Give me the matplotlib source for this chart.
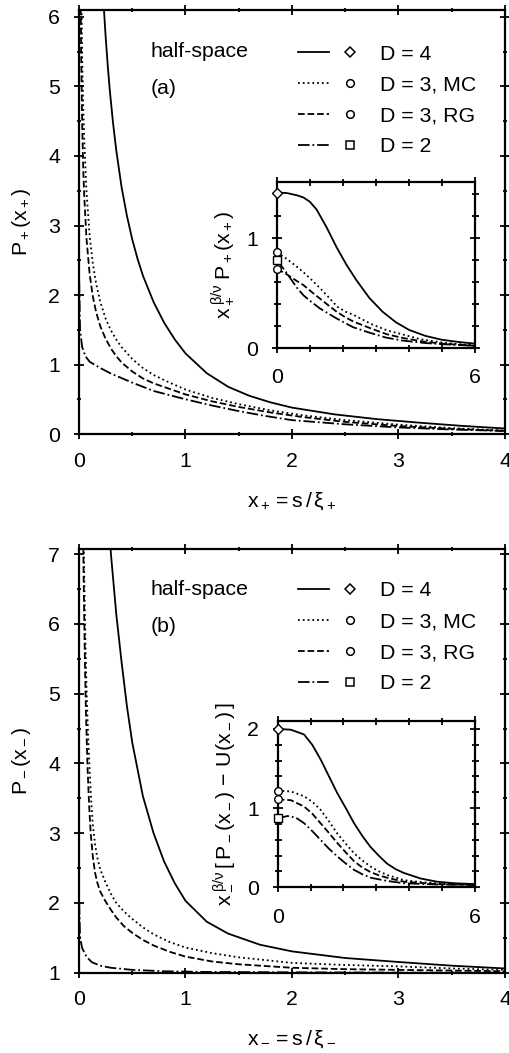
import matplotlib
matplotlib.use('Agg')
import matplotlib.pyplot as plt
from matplotlib.lines import Line2D
from matplotlib.legend_handler import HandlerTuple
from matplotlib.ticker import MultipleLocator, FixedLocator

plt.rcParams['font.family'] = ['Liberation Sans', 'DejaVu Sans']
plt.rcParams['mathtext.fontset'] = 'custom'
plt.rcParams['mathtext.rm'] = 'Liberation Sans'
plt.rcParams['mathtext.it'] = 'Liberation Sans'
plt.rcParams['mathtext.sf'] = 'Liberation Sans'
plt.rcParams['mathtext.default'] = 'rm'

# ---------------- dados ----------------
labels = ['D = 4', 'D = 3, MC', 'D = 3, RG', 'D = 2']
marcadores = ['D', 'o', 'o', 's']
estilos = ['-', ':', '--', '-.']

# (a) curva principal P+(x+)
a_x_d4 = [0.235, 0.25, 0.27, 0.29, 0.32, 0.35, 0.4, 0.45, 0.5, 0.55, 0.6, 0.7, 0.8, 0.9, 1.0, 1.2, 1.4, 1.6, 1.8, 2.0, 2.4, 2.8, 3.2, 3.6, 4.0]
a_y_d4 = [6.09, 5.72, 5.3, 4.93, 4.47, 4.08, 3.55, 3.14, 2.8, 2.52, 2.28, 1.9, 1.6, 1.36, 1.16, 0.875, 0.68, 0.55, 0.455, 0.38, 0.283, 0.214, 0.163, 0.117, 0.08]
a_x_mc = [0.022, 0.03, 0.04, 0.05, 0.07, 0.1, 0.13, 0.16, 0.2, 0.25, 0.3, 0.35, 0.4, 0.5, 0.6, 0.7, 0.85, 1.0, 1.25, 1.5, 1.8, 2.1, 2.5, 3.0, 3.5, 4.0]
a_y_mc = [6.4, 5.4, 4.7, 4.2, 3.5, 2.85, 2.45, 2.17, 1.9, 1.66, 1.49, 1.36, 1.25, 1.08, 0.95, 0.85, 0.74, 0.64, 0.52, 0.43, 0.34, 0.27, 0.2, 0.135, 0.085, 0.05]
a_x_rg = [0.016, 0.02, 0.03, 0.04, 0.05, 0.07, 0.1, 0.13, 0.16, 0.2, 0.25, 0.3, 0.35, 0.4, 0.5, 0.6, 0.7, 0.85, 1.0, 1.25, 1.5, 1.8, 2.1, 2.5, 3.0, 3.5, 4.0]
a_y_rg = [6.3, 5.5, 4.45, 3.8, 3.4, 2.82, 2.3, 1.98, 1.76, 1.55, 1.37, 1.23, 1.12, 1.03, 0.9, 0.8, 0.73, 0.65, 0.57, 0.47, 0.39, 0.31, 0.245, 0.175, 0.115, 0.075, 0.045]
a_x_d2 = [0.002, 0.01, 0.03, 0.06, 0.1, 0.2, 0.3, 0.5, 0.7, 1.0, 1.25, 1.5, 1.75, 2.0, 2.5, 3.0, 3.5, 4.0]
a_y_d2 = [2.2, 1.5, 1.25, 1.12, 1.04, 0.95, 0.87, 0.74, 0.62, 0.5, 0.41, 0.33, 0.26, 0.2, 0.14, 0.095, 0.065, 0.045]

# (a) inset x+^(beta/nu) P+(x+)
ia_x_d4 = [0, 0.3, 0.6, 0.8, 1.0, 1.2, 1.5, 1.8, 2.1, 2.4, 2.8, 3.2, 3.6, 4.0, 4.5, 5.0, 5.5, 6.0]
ia_y_d4 = [1.415, 1.41, 1.39, 1.37, 1.33, 1.26, 1.1, 0.92, 0.76, 0.62, 0.455, 0.33, 0.235, 0.165, 0.11, 0.075, 0.055, 0.04]
ia_x_mc = [0, 0.3, 0.6, 0.8, 1.05, 1.32, 1.57, 1.83, 2.08, 2.33, 2.84, 3.34, 3.85, 4.35, 5.0, 5.5, 6.0]
ia_y_mc = [0.87, 0.81, 0.74, 0.69, 0.62, 0.54, 0.46, 0.375, 0.33, 0.30, 0.22, 0.16, 0.12, 0.08, 0.05, 0.035, 0.025]
ia_x_rg = [0, 0.3, 0.6, 0.8, 1.05, 1.3, 1.55, 1.81, 2.07, 2.32, 2.83, 3.33, 3.84, 4.4, 5.0, 6.0]
ia_y_rg = [0.72, 0.67, 0.61, 0.573, 0.51, 0.45, 0.39, 0.33, 0.28, 0.24, 0.18, 0.125, 0.09, 0.06, 0.04, 0.02]
ia_x_d2 = [0, 0.3, 0.6, 0.8, 1.0, 1.3, 1.8, 2.3, 2.8, 3.3, 3.8, 4.5, 5.0, 6.0]
ia_y_d2 = [0.80, 0.68, 0.55, 0.48, 0.43, 0.36, 0.27, 0.19, 0.14, 0.095, 0.068, 0.045, 0.035, 0.02]

# (b) curva principal P-(x-)
b_x_d4 = [0.29, 0.3, 0.35, 0.4, 0.45, 0.5, 0.6, 0.7, 0.8, 0.9, 1.0, 1.2, 1.4, 1.7, 2.0, 2.5, 3.0, 3.5, 4.0]
b_y_d4 = [7.21, 7.0, 6.14, 5.45, 4.82, 4.3, 3.53, 3.0, 2.59, 2.28, 2.03, 1.73, 1.56, 1.4, 1.305, 1.21, 1.153, 1.1, 1.06]
b_x_mc = [0.045, 0.05, 0.06, 0.07, 0.085, 0.1, 0.115, 0.13, 0.15, 0.17, 0.2, 0.25, 0.3, 0.35, 0.42, 0.5, 0.6, 0.7, 0.85, 1.0, 1.25, 1.5, 2.0, 2.5, 3.0, 3.5, 4.0]
b_y_mc = [7.1, 6.6, 5.75, 5.1, 4.4, 3.9, 3.45, 3.12, 2.85, 2.66, 2.48, 2.29, 2.13, 2.0, 1.88, 1.77, 1.65, 1.55, 1.44, 1.36, 1.28, 1.22, 1.14, 1.11, 1.09, 1.06, 1.04]
b_x_rg = [0.04, 0.045, 0.055, 0.065, 0.08, 0.095, 0.11, 0.13, 0.15, 0.17, 0.2, 0.25, 0.3, 0.35, 0.42, 0.5, 0.6, 0.7, 0.85, 1.0, 1.25, 1.5, 2.0, 2.5, 3.0, 3.5, 4.0]
b_y_rg = [7.1, 6.5, 5.5, 4.75, 3.95, 3.4, 3.0, 2.66, 2.44, 2.3, 2.16, 2.02, 1.9, 1.79, 1.67, 1.57, 1.47, 1.39, 1.3, 1.23, 1.16, 1.12, 1.07, 1.05, 1.04, 1.03, 1.02]
b_x_d2 = [0.002, 0.01, 0.03, 0.07, 0.12, 0.2, 0.3, 0.5, 0.8, 1.2, 2.0, 3.0, 4.0]
b_y_d2 = [2.0, 1.5, 1.35, 1.23, 1.15, 1.1, 1.07, 1.04, 1.02, 1.01, 1.005, 1.0, 1.0]

# (b) inset x-^(beta/nu) [P-(x-) - U(x-)]
ib_x_d4 = [0, 0.4, 0.8, 1.05, 1.31, 1.56, 1.81, 2.07, 2.32, 2.57, 2.82, 3.07, 3.32, 3.58, 3.84, 4.35, 4.85, 5.4, 6.0]
ib_y_d4 = [2.0, 1.99, 1.93, 1.8, 1.61, 1.4, 1.19, 1.0, 0.81, 0.65, 0.51, 0.4, 0.30, 0.23, 0.18, 0.11, 0.07, 0.05, 0.04]
ib_x_mc = [0, 0.4, 0.8, 1.05, 1.3, 1.55, 1.81, 2.07, 2.32, 2.57, 2.83, 3.08, 3.33, 3.84, 4.35, 4.85, 6.0]
ib_y_mc = [1.22, 1.21, 1.15, 1.08, 0.98, 0.84, 0.68, 0.55, 0.43, 0.34, 0.26, 0.2, 0.155, 0.09, 0.065, 0.05, 0.03]
ib_x_rg = [0, 0.4, 0.8, 1.05, 1.3, 1.55, 1.81, 2.07, 2.32, 2.57, 2.83, 3.08, 3.33, 3.84, 4.85, 6.0]
ib_y_rg = [1.11, 1.10, 1.02, 0.93, 0.81, 0.69, 0.56, 0.44, 0.33, 0.25, 0.19, 0.15, 0.12, 0.07, 0.04, 0.03]
ib_x_d2 = [0, 0.3, 0.55, 0.8, 1.05, 1.3, 1.55, 1.81, 2.07, 2.32, 2.57, 2.83, 3.33, 3.84, 4.85, 6.0]
ib_y_d2 = [0.87, 0.90, 0.88, 0.81, 0.71, 0.60, 0.49, 0.39, 0.30, 0.22, 0.165, 0.12, 0.08, 0.05, 0.035, 0.03]

FS = 15.3
LW = 1.3


def estilo_eixo(ax, maior=10, menor=5):
    for s in ax.spines.values():
        s.set_linewidth(1.6)
    ax.tick_params(which='both', direction='inout', top=True, right=True,
                   width=1.3, labelsize=FS)
    ax.tick_params(which='major', length=maior * 0.72)
    ax.tick_params(which='minor', length=menor * 0.72)


def painel(ax, ins, curvas, curvas_ins, ylim, ins_ylim, ins_major, letra, ylabel, xlabel, inslabel, pos):
    for (x, y), ls in zip(curvas, estilos):
        ax.plot(x, y, color='k', ls=ls, lw=LW)
    ax.set_xlim(0, 4)
    ax.set_ylim(*ylim)
    ax.xaxis.set_major_locator(MultipleLocator(1))
    ax.xaxis.set_minor_locator(MultipleLocator(0.5))
    ax.yaxis.set_major_locator(MultipleLocator(1))
    ax.yaxis.set_minor_locator(MultipleLocator(0.5))
    estilo_eixo(ax)
    ax.tick_params(axis='x', pad=9)
    ax.tick_params(axis='y', pad=10)
    ax.set_xlabel(xlabel, fontsize=FS, labelpad=14)
    ax.set_ylabel(ylabel, fontsize=FS, labelpad=11)

    ax.text(0.167, pos[0], 'half-space', transform=ax.transAxes, fontsize=FS, va='center')
    ax.text(0.167, pos[1], letra, transform=ax.transAxes, fontsize=FS, va='center')

    handles = []
    for ls, m in zip(estilos, marcadores):
        ms = 5.5 if m != 'D' else 5
        handles.append((Line2D([], [], color='k', ls=ls, lw=LW),
                        Line2D([], [], ls='none', marker=m, mfc='white', mec='k', mew=1.1, ms=ms)))
    ax.legend(handles, labels, handler_map={tuple: HandlerTuple(ndivide=2, pad=0.26)},
              handlelength=3.2, handletextpad=0.68, labelspacing=0.56, frameon=False,
              loc='upper left', bbox_to_anchor=(0.514, pos[2]), borderaxespad=0,
              borderpad=0, fontsize=FS)

    for (x, y), ls in zip(curvas_ins, estilos):
        ins.plot(x, y, color='k', ls=ls, lw=LW)
    for (x, y), m in zip(curvas_ins, marcadores):
        ms = 5.5 if m != 'D' else 5
        ins.plot(x[:1], y[:1], ls='none', marker=m, mfc='white', mec='k', mew=1.0, ms=ms,
                 clip_on=False, zorder=5)
    ins.set_xlim(0, 6)
    ins.set_ylim(*ins_ylim)
    ins.xaxis.set_major_locator(FixedLocator([0, 6]))
    ins.xaxis.set_minor_locator(MultipleLocator(1))
    ins.yaxis.set_major_locator(FixedLocator(ins_major))
    ins.yaxis.set_minor_locator(MultipleLocator(0.2))
    estilo_eixo(ins, maior=10, menor=7)
    ins.tick_params(axis='x', pad=11)
    ins.tick_params(axis='y', pad=10)
    ins.set_ylabel(inslabel, fontsize=FS, labelpad=7)


fig = plt.figure(figsize=(5.09, 10.53), dpi=100)
ax_a = fig.add_axes([0.1552, 0.5878, 0.8369, 0.4027])
ins_a = fig.add_axes([0.5442, 0.6695, 0.3890, 0.1576])
ax_b = fig.add_axes([0.1552, 0.0763, 0.8369, 0.4021])
ins_b = fig.add_axes([0.5456, 0.1574, 0.3876, 0.1579])

painel(ax_a, ins_a,
       [(a_x_d4, a_y_d4), (a_x_mc, a_y_mc), (a_x_rg, a_y_rg), (a_x_d2, a_y_d2)],
       [(ia_x_d4, ia_y_d4), (ia_x_mc, ia_y_mc), (ia_x_rg, ia_y_rg), (ia_x_d2, ia_y_d2)],
       (0, 6.1), (0, 1.51), [0, 1], '(a)',
       r'$P_+(x_+)$', r'$x_+ = s\,/\,ξ_+$', r'$x_+^{\;β/ν}\;P_+(x_+)$',
       (0.903, 0.814, 0.918))

painel(ax_b, ins_b,
       [(b_x_d4, b_y_d4), (b_x_mc, b_y_mc), (b_x_rg, b_y_rg), (b_x_d2, b_y_d2)],
       [(ib_x_d4, ib_y_d4), (ib_x_mc, ib_y_mc), (ib_x_rg, ib_y_rg), (ib_x_d2, ib_y_d2)],
       (1, 7.07), (0, 2.1), [0, 1, 2], '(b)',
       r'$P_-(x_-)$', r'$x_- = s\,/\,ξ_-$', r'$x_-^{\;β/ν}\,[\,P_-(x_-)\,-\,U(x_-)\,]$',
       (0.906, 0.8165, 0.924))

fig.savefig('out.png', dpi=100)
